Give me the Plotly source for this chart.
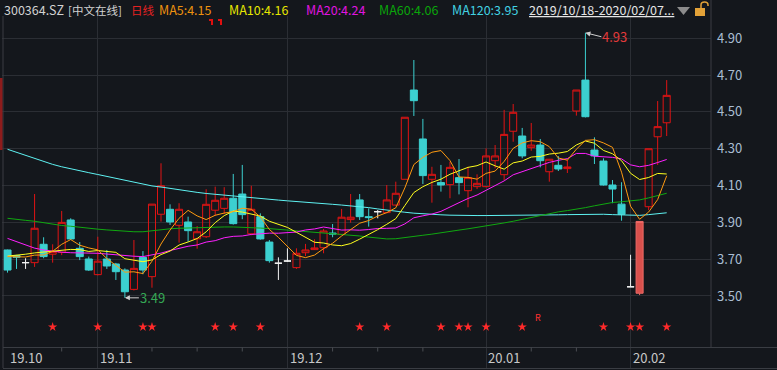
import plotly.graph_objects as go
import pandas as pd

# ---------------- data ----------------
opens = [3.750, 3.720, 3.681, 3.681, 3.781, 3.727, 3.737, 3.913, 3.759, 3.701,
         3.616, 3.701, 3.674, 3.641, 3.536, 3.710, 3.605, 3.944, 3.971, 3.884,
         3.902, 3.811, 3.822, 3.966, 3.976, 4.031, 4.054, 3.838, 3.931, 3.793,
         3.678, 3.690, 3.654, 3.735, 3.752, 3.762, 3.842, 3.835, 3.915, 4.022,
         3.931, 3.958, 3.953, 3.994, 4.134, 4.619, 4.353, 4.134, 4.116, 4.105,
         4.143, 4.072, 4.094, 4.094, 4.235, 4.159, 4.395, 4.369, 4.306, 4.320,
         4.175, 4.210, 4.192, 4.505, 4.673, 4.293, 4.233, 4.103, 3.999, 3.550,
         3.515, 3.985, 4.365, 4.441]
highs = [3.752, 3.723, 3.705, 4.054, 3.819, 3.781, 3.962, 3.922, 3.793, 3.714,
         3.822, 3.750, 3.680, 3.650, 3.804, 3.744, 3.999, 4.221, 3.998, 4.004,
         3.931, 3.880, 4.080, 4.094, 4.091, 4.163, 4.212, 4.099, 3.949, 3.804,
         3.710, 3.759, 3.759, 3.783, 3.808, 3.864, 3.891, 3.973, 4.054, 4.054,
         3.976, 3.967, 4.103, 4.121, 4.471, 4.782, 4.462, 4.202, 4.212, 4.230,
         4.244, 4.202, 4.161, 4.302, 4.320, 4.511, 4.543, 4.413, 4.440, 4.353,
         4.243, 4.260, 4.240, 4.619, 4.930, 4.362, 4.248, 4.130, 4.118, 3.724,
         3.905, 4.300, 4.559, 4.673]
lows = [3.627, 3.647, 3.647, 3.658, 3.705, 3.681, 3.722, 3.805, 3.695, 3.636,
        3.612, 3.647, 3.587, 3.490, 3.530, 3.618, 3.545, 3.904, 3.886, 3.790,
        3.795, 3.757, 3.815, 3.935, 3.945, 3.888, 3.917, 3.830, 3.806, 3.681,
        3.587, 3.686, 3.647, 3.717, 3.750, 3.732, 3.819, 3.830, 3.898, 3.913,
        3.877, 3.922, 3.950, 3.990, 4.134, 4.478, 4.108, 4.007, 4.067, 4.031,
        4.052, 3.982, 4.081, 4.090, 4.194, 4.130, 4.338, 4.248, 4.289, 4.199,
        4.121, 4.179, 4.168, 4.480, 4.470, 4.217, 4.100, 4.004, 3.909, 3.550,
        3.505, 3.967, 4.212, 4.369]
closes = [3.641, 3.710, 3.681, 3.868, 3.714, 3.741, 3.900, 3.810, 3.714, 3.641,
          3.689, 3.663, 3.632, 3.523, 3.650, 3.641, 3.999, 4.099, 3.902, 3.971,
          3.855, 3.849, 3.998, 4.020, 4.031, 3.893, 3.942, 3.971, 3.810, 3.692,
          3.678, 3.690, 3.732, 3.750, 3.761, 3.853, 3.837, 3.928, 3.928, 3.931,
          3.926, 3.958, 4.022, 4.058, 4.471, 4.561, 4.154, 4.161, 4.103, 4.199,
          4.116, 4.143, 4.112, 4.261, 4.261, 4.378, 4.498, 4.261, 4.320, 4.235,
          4.243, 4.190, 4.201, 4.619, 4.474, 4.261, 4.103, 4.081, 3.944, 3.550,
          3.905, 4.300, 4.420, 4.590]
highlight_idx = [70]

# moving-average values before a full window exists
ma5_lead = [3.714, 3.712, 3.712, 3.722]
ma10_lead = [3.717, 3.721, 3.727, 3.734, 3.739, 3.745, 3.751, 3.753, 3.752]
ma20_lead = [3.813, 3.795, 3.778, 3.760, 3.750, 3.742, 3.738, 3.735, 3.735, 3.735,
             3.732, 3.728, 3.723, 3.719, 3.716, 3.714, 3.722, 3.733, 3.747]
ma60 = [3.922, 3.915, 3.911, 3.906, 3.898, 3.889, 3.883, 3.879, 3.875, 3.868,
        3.863, 3.859, 3.855, 3.852, 3.849, 3.849, 3.855, 3.861, 3.865, 3.868,
        3.870, 3.871, 3.872, 3.873, 3.875, 3.875, 3.874, 3.872, 3.869, 3.866,
        3.862, 3.858, 3.855, 3.852, 3.849, 3.845, 3.841, 3.837, 3.832, 3.826,
        3.820, 3.813, 3.810, 3.811, 3.816, 3.822, 3.830, 3.836, 3.842, 3.850,
        3.858, 3.865, 3.872, 3.880, 3.888, 3.897, 3.906, 3.916, 3.926, 3.940,
        3.950, 3.957, 3.964, 3.970, 3.980, 3.990, 4.000, 4.008, 4.012, 4.016,
        4.022, 4.033, 4.045, 4.058]
ma120 = [4.297, 4.280, 4.262, 4.245, 4.230, 4.215, 4.202, 4.190, 4.180, 4.170,
         4.160, 4.150, 4.140, 4.128, 4.118, 4.106, 4.098, 4.092, 4.084, 4.077,
         4.070, 4.063, 4.057, 4.052, 4.047, 4.042, 4.038, 4.034, 4.029, 4.025,
         4.021, 4.017, 4.014, 4.010, 4.006, 4.002, 3.998, 3.994, 3.990, 3.985,
         3.980, 3.973, 3.966, 3.960, 3.955, 3.950, 3.946, 3.944, 3.941, 3.939,
         3.937, 3.937, 3.937, 3.937, 3.937, 3.937, 3.937, 3.937, 3.938, 3.939,
         3.940, 3.941, 3.942, 3.943, 3.944, 3.944, 3.944, 3.942, 3.940, 3.938,
         3.938, 3.942, 3.947, 3.952]

star_idx = [5, 10, 15, 16, 23, 25, 28, 39, 42, 48, 50, 51, 53, 57, 66, 69, 70, 73]
month_labels = ["19.10", "19.11", "19.12", "20.01", "20.02"]
month_idx = [0, 10, 31, 53, 69]
week_tick_idx = [6, 16, 21, 26, 36, 41, 46, 58, 63]
price_ticks = [3.50, 3.70, 3.90, 4.10, 4.30, 4.50, 4.70, 4.90]

# ---------------- styling ----------------
BG = '#14171c'
GRID = '#2b2e34'
BORDER = '#3a3d43'
RED = '#e01414'
CYAN = '#3cd0d0'
FONT = 'Noto Sans CJK SC, Noto Sans, sans-serif'

n = len(closes)
idx = list(range(n))
s = pd.Series(closes)


def ma(window, lead):
    m = s.rolling(window).mean().tolist()
    return lead + m[len(lead):]


ma5 = ma(5, ma5_lead)
ma10 = ma(10, ma10_lead)
ma20 = ma(20, ma20_lead)


def candle(cond, line_color, fill):
    o, h, l, c = [], [], [], []
    for i in idx:
        ok = cond(i)
        o.append(opens[i] if ok else None)
        h.append(highs[i] if ok else None)
        l.append(lows[i] if ok else None)
        c.append(closes[i] if ok else None)
    return go.Candlestick(
        x=idx, open=o, high=h, low=l, close=c,
        increasing=dict(line=dict(color=line_color, width=1), fillcolor=fill),
        decreasing=dict(line=dict(color=line_color, width=1), fillcolor=fill),
        whiskerwidth=0, hoverinfo='skip', showlegend=False)


fig = go.Figure()
fig.add_trace(candle(lambda i: closes[i] > opens[i] and i not in highlight_idx, RED, 'rgba(0,0,0,0)'))
fig.add_trace(candle(lambda i: closes[i] < opens[i] and i not in highlight_idx, CYAN, CYAN))
fig.add_trace(candle(lambda i: closes[i] == opens[i] and i not in highlight_idx, '#f2f2f2', '#f2f2f2'))
fig.add_trace(candle(lambda i: i in highlight_idx, '#ee6a66', '#d9504c'))

for vals, col in [(ma120, '#5ef2f2'), (ma60, '#10a810'), (ma20, '#ff20ff'),
                  (ma10, '#ffff1e'), (ma5, '#ff9a10')]:
    fig.add_trace(go.Scatter(x=idx, y=vals, mode='lines', line=dict(color=col, width=1),
                             hoverinfo='skip', showlegend=False))

# ---------------- layout geometry ----------------
W, H = 777, 370
L, R, T, B = 2, 66, 16, 2
PW, PH = W - L - R, H - T - B
XPX0, XSTEP = 7.5, 9.03
x_range = [(L - XPX0) / XSTEP, (L - XPX0) / XSTEP + PW / XSTEP]
Y_TOP, Y_BOT = 5.0211, 3.1088


def fx(px):
    return (px - L) / PW


def fy(py):
    return (T + PH - py) / PH


def pv(py):
    return Y_TOP - (py - T) * (Y_TOP - Y_BOT) / PH


# signal stars
STAR_Y = pv(327)
fig.add_trace(go.Scatter(x=star_idx, y=[STAR_Y] * len(star_idx), mode='markers',
                         marker=dict(symbol='star', size=7, color='#ff2a2a', line=dict(width=0)),
                         hoverinfo='skip', showlegend=False))

annotations = []
shapes = []

# header
header = [("300364.SZ", 3, '#d2d2d2', 12.5), ("[中文在线]", 67, '#d2d2d2', 11.5),
          ("日线", 130, '#e42222', 11.5),
          ("MA5:%.2f" % ma5[-1], 158, '#ee920e', 12.5), ("MA10:%.2f" % ma10[-1], 228, '#e6e600', 12.5),
          ("MA20:%.2f" % ma20[-1], 305, '#e014e0', 12.5), ("MA60:%.2f" % ma60[-1], 378, '#0aa40a', 12.5),
          ("MA120:%.2f" % ma120[-1], 451, '#42d2e2', 12.5),
          ("<u>2019/10/18-2020/02/07...</u>", 528, '#e6e6e6', 12.5)]
for txt, xp, col, fs in header:
    annotations.append(dict(text=txt, x=fx(xp), y=fy(10), xref='paper', yref='paper',
                            xanchor='left', yanchor='middle', showarrow=False,
                            font=dict(family=FONT, size=fs, color=col), borderpad=0))

# month labels
for lab, mi in zip(month_labels, month_idx):
    annotations.append(dict(text=lab, x=mi + 0.12, y=pv(357.5), xref='x', yref='y',
                            xanchor='left', yanchor='middle', showarrow=False,
                            font=dict(family=FONT, size=13, color='#c8c8c8'), borderpad=0))

# high / low markers
hi_i = highs.index(max(highs))
lo_i = lows.index(min(lows))
annotations.append(dict(text="%.2f" % highs[hi_i], x=hi_i, y=highs[hi_i], xref='x', yref='y',
                        showarrow=True, ax=16, ay=4, axref='pixel', ayref='pixel',
                        xanchor='left', yanchor='middle', arrowhead=2, arrowsize=1,
                        arrowwidth=1, arrowcolor='#cfcfcf', borderpad=0,
                        font=dict(family=FONT, size=13, color='#e23a3a')))
annotations.append(dict(text="%.2f" % lows[lo_i], x=lo_i, y=lows[lo_i], xref='x', yref='y',
                        showarrow=True, ax=14, ay=0, axref='pixel', ayref='pixel',
                        xanchor='left', yanchor='middle', arrowhead=2, arrowsize=1,
                        arrowwidth=1, arrowcolor='#cfcfcf', borderpad=0,
                        font=dict(family=FONT, size=13, color='#35a855')))
annotations.append(dict(text="R", x=58.7, y=pv(317), xref='x', yref='y', showarrow=False,
                        font=dict(family=FONT, size=9, color='#ff3030')))

# borders and band lines
line = dict(color=BORDER, width=1)
shapes.append(dict(type='line', xref='paper', yref='paper', x0=fx(3), x1=fx(3), y0=0, y1=1, line=line))
shapes.append(dict(type='line', xref='paper', yref='paper', x0=1, x1=1, y0=fy(347.5), y1=fy(0), line=line))
shapes.append(dict(type='line', xref='paper', yref='paper', x0=fx(3), x1=fx(777), y0=fy(347.5), y1=fy(347.5), line=line))
shapes.append(dict(type='line', xref='paper', yref='paper', x0=fx(3), x1=fx(777), y0=fy(368.5), y1=fy(368.5), line=line))
for wi in week_tick_idx:
    shapes.append(dict(type='line', xref='x', yref='y', x0=wi, x1=wi, y0=pv(347.5), y1=pv(351.5),
                       line=dict(color='#4a4d52', width=1)))
# left red scroll strip
shapes.append(dict(type='rect', xref='paper', yref='paper', x0=fx(0), x1=fx(2.5), y0=fy(150), y1=fy(78),
                   fillcolor='#8e1c1c', line=dict(width=0)))
# clipped red marker near top
for xp in (209, 218):
    shapes.append(dict(type='path', xref='paper', yref='paper',
                       path='M %f,%f L %f,%f L %f,%f' % (fx(xp), fy(20), fx(xp + 3), fy(20), fx(xp + 3), fy(25)),
                       line=dict(color='#e01010', width=2)))
# dropdown triangle and lock icon
shapes.append(dict(type='path', xref='paper', yref='paper',
                   path='M %f,%f L %f,%f L %f,%f Z' % (fx(677), fy(7), fx(690), fy(7), fx(683.5), fy(15)),
                   fillcolor='#8c8c8c', line=dict(width=0)))
shapes.append(dict(type='rect', xref='paper', yref='paper', x0=fx(695), x1=fx(705), y0=fy(16), y1=fy(8),
                   fillcolor='#e3a238', line=dict(width=0)))
shapes.append(dict(type='path', xref='paper', yref='paper',
                   path='M %f,%f L %f,%f Q %f,%f %f,%f Q %f,%f %f,%f L %f,%f' % (
                       fx(701), fy(8), fx(701), fy(5), fx(701), fy(2), fx(704.5), fy(2),
                       fx(708), fy(2), fx(708), fy(5), fx(708), fy(6)),
                   line=dict(color='#e3a238', width=1.5)))

fig.update_layout(
    width=W, height=H, margin=dict(l=L, r=R, t=T, b=B),
    paper_bgcolor=BG, plot_bgcolor=BG,
    boxgap=0.22, boxgroupgap=0, boxmode='overlay',
    showlegend=False, hovermode=False,
    xaxis=dict(range=x_range, showticklabels=False, tickvals=[10, 31, 53, 69],
               showgrid=True, gridcolor=GRID, gridwidth=1, zeroline=False, showline=False,
               ticks='', rangeslider=dict(visible=False), fixedrange=True),
    yaxis=dict(range=[Y_BOT, Y_TOP], side='right', tickvals=price_ticks,
               ticktext=["%.2f" % v for v in price_ticks], showgrid=True, gridcolor=GRID,
               gridwidth=1, zeroline=False, showline=False, ticks='', ticklabelstandoff=5,
               tickfont=dict(family=FONT, size=13, color='#a9bdd2'), fixedrange=True),
    annotations=annotations, shapes=shapes,
)

fig.write_html("out.html", config={'displayModeBar': False},
               post_script="document.body.style.margin='0';document.body.style.background='%s';"
                           "document.body.style.overflow='hidden';" % BG)
